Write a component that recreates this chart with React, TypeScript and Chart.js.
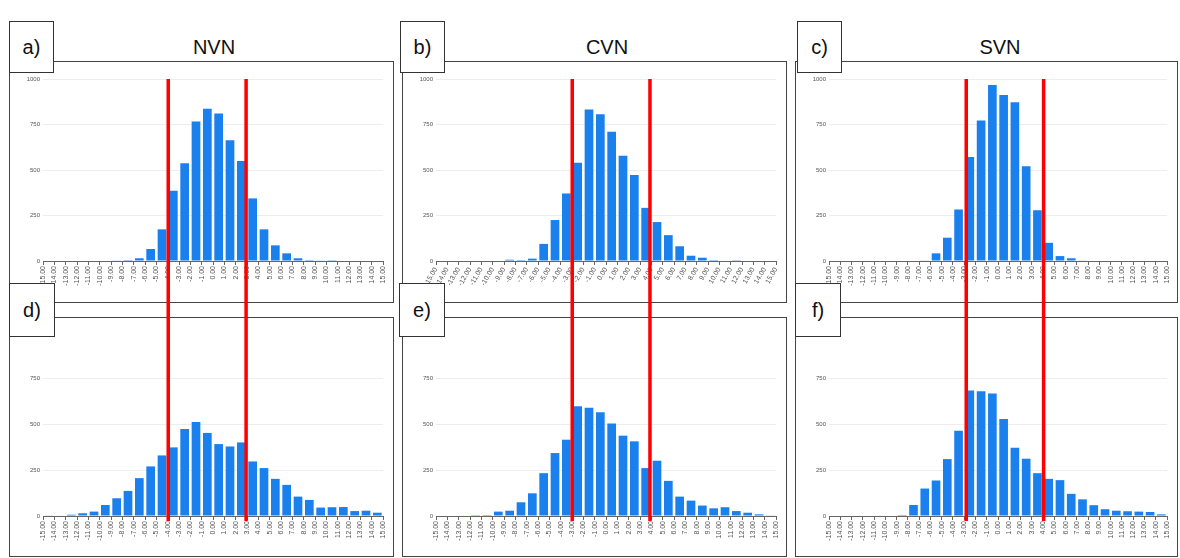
import React, { useEffect, useRef } from 'react';
import { Chart, registerables } from 'chart.js';

Chart.register(...registerables);

// ---------- data ----------
const binStarts = [-15, -14, -13, -12, -11, -10, -9, -8, -7, -6, -5, -4, -3, -2, -1, 0, 1, 2, 3, 4, 5, 6, 7, 8, 9, 10, 11, 12, 13, 14];
const tickValues = [-15, -14, -13, -12, -11, -10, -9, -8, -7, -6, -5, -4, -3, -2, -1, 0, 1, 2, 3, 4, 5, 6, 7, 8, 9, 10, 11, 12, 13, 14, 15];
const yTicksTop = [0, 250, 500, 750, 1000];
const yTicksBottom = [0, 250, 500, 750];

const nvnTop = [0, 0, 0, 0, 0, 0, 2, 5, 15, 66, 174, 386, 537, 766, 837, 811, 663, 549, 344, 174, 86, 42, 15, 5, 2, 1, 0, 0, 0, 0];
const cvnTop = [0, 0, 0, 0, 0, 0, 7, 5, 13, 94, 225, 371, 540, 832, 807, 710, 578, 472, 292, 214, 142, 81, 29, 18, 5, 3, 1, 0, 0, 0];
const svnTop = [0, 0, 0, 0, 0, 0, 0, 0, 2, 42, 128, 283, 571, 772, 967, 912, 872, 520, 279, 100, 27, 15, 2, 0, 0, 0, 0, 0, 0, 0];
const nvnBottom = [2, 3, 7, 15, 24, 60, 97, 137, 207, 271, 331, 375, 476, 514, 454, 393, 380, 402, 298, 262, 203, 170, 106, 88, 46, 48, 49, 27, 29, 18];
const cvnBottom = [0, 0, 0, 1, 5, 24, 29, 75, 124, 234, 344, 417, 600, 591, 567, 505, 439, 408, 262, 302, 192, 106, 84, 57, 42, 48, 27, 18, 9, 2];
const svnBottom = [0, 0, 0, 0, 0, 0, 5, 60, 150, 194, 311, 466, 686, 682, 669, 530, 373, 313, 234, 203, 196, 121, 91, 59, 37, 29, 26, 24, 22, 9];

const regionTitles = ['NVN', 'CVN', 'SVN'];
const topLetters = ['a)', 'b)', 'c)'];
const bottomLetters = ['d)', 'e)', 'f)'];
const redLinesNVN = [-3.95, 2.92];
const redLinesCVN = [-2.98, 3.88];
const redLinesSVN = [-2.82, 4.05];

// ---------- layout ----------
const FONT = "'Liberation Sans', Arial, sans-serif";
const BAR_COLOR = '#1a80ee';
const colLeft = [9, 402, 795];
const colWidth = [385, 385, 383];

type HistProps = {
  values: number[];
  lines: number[];
  row: 'top' | 'bottom';
  rotation: number;
  left: number;
  top: number;
  width: number;
  height: number;
};

function Hist({ values, lines, row, rotation, left, top, width, height }: HistProps) {
  const ref = useRef<HTMLCanvasElement>(null);
  useEffect(() => {
    if (!ref.current) return;
    const isTop = row === 'top';
    const redPlugin = {
      id: 'redLines',
      afterDraw(chart: any) {
        const { ctx, chartArea, scales } = chart;
        ctx.save();
        ctx.strokeStyle = '#ff0000';
        ctx.lineWidth = 3.5;
        lines.forEach((v) => {
          const x = scales.x.getPixelForValue(v);
          const y0 = isTop ? chartArea.top : 0;
          const y1 = isTop ? chart.height : chartArea.bottom + 5;
          ctx.beginPath();
          ctx.moveTo(x, y0);
          ctx.lineTo(x, y1);
          ctx.stroke();
        });
        ctx.restore();
      },
    };
    const yTicks = isTop ? yTicksTop : yTicksBottom;
    const chart = new Chart(ref.current, {
      type: 'bar',
      data: {
        datasets: [
          {
            data: binStarts.map((s, i) => ({ x: s + 0.5, y: values[i] })),
            backgroundColor: BAR_COLOR,
            barPercentage: 0.96,
            categoryPercentage: 0.8,
          },
        ],
      },
      options: {
        animation: false,
        responsive: false,
        maintainAspectRatio: false,
        layout: { padding: { top: isTop ? 18 : 23, right: 11, left: 0, bottom: 0 } },
        plugins: { legend: { display: false }, tooltip: { enabled: false } },
        scales: {
          x: {
            type: 'linear',
            min: -15,
            max: 15,
            offset: false,
            afterBuildTicks: (s: any) => {
              s.ticks = tickValues.map((v) => ({ value: v }));
            },
            ticks: {
              autoSkip: false,
              minRotation: rotation,
              maxRotation: rotation,
              font: { size: 7, family: FONT },
              color: '#555',
              padding: 1,
              callback: (v: any) => Number(v).toFixed(2),
            },
            grid: { drawOnChartArea: false, tickLength: 4, color: '#666', offset: false },
            border: { color: '#666', width: 1 },
            afterFit: (s: any) => {
              s.height = isTop ? 49 : 42;
            },
          },
          y: {
            min: 0,
            max: 1000,
            afterBuildTicks: (s: any) => {
              s.ticks = yTicks.map((v) => ({ value: v }));
            },
            ticks: {
              font: { size: 6, family: FONT },
              color: '#555',
              padding: 3,
              callback: (v: any) => String(v),
            },
            grid: { color: 'rgba(0,0,0,0.07)', drawTicks: false },
            border: { display: false },
            afterFit: (s: any) => {
              s.width = 34;
            },
          },
        },
      } as any,
      plugins: [redPlugin],
    });
    return () => chart.destroy();
  }, []);
  return (
    <canvas
      ref={ref}
      width={width}
      height={height}
      style={{ position: 'absolute', left, top, width, height, zIndex: 1 }}
    />
  );
}

function Frame({ left, top, width, height }: { left: number; top: number; width: number; height: number }) {
  return (
    <div
      style={{
        position: 'absolute',
        left,
        top,
        width,
        height,
        border: '1.5px solid #444',
        boxSizing: 'border-box',
        background: '#fff',
        zIndex: 0,
      }}
    />
  );
}

function LetterBox({ left, top, width, height, text }: { left: number; top: number; width: number; height: number; text: string }) {
  return (
    <div
      style={{
        position: 'absolute',
        left,
        top,
        width,
        height,
        border: '1.5px solid #333',
        boxSizing: 'border-box',
        background: '#fff',
        zIndex: 2,
        display: 'flex',
        alignItems: 'center',
        justifyContent: 'center',
        fontFamily: FONT,
        fontSize: 20,
        color: '#111',
      }}
    >
      {text}
    </div>
  );
}

export default function App() {
  const topData = [nvnTop, cvnTop, svnTop];
  const bottomData = [nvnBottom, cvnBottom, svnBottom];
  const lineSets = [redLinesNVN, redLinesCVN, redLinesSVN];
  const rotations = [90, 60, 90];
  return (
    <div style={{ position: 'absolute', left: 0, top: 0, width: 1180, height: 558, background: '#fff', overflow: 'hidden' }}>
      {colLeft.map((l, i) => (
        <React.Fragment key={i}>
          <Frame left={l} top={61} width={colWidth[i]} height={242} />
          <Frame left={l} top={317} width={colWidth[i]} height={240} />
          <Hist values={topData[i]} lines={lineSets[i]} row="top" rotation={rotations[i]} left={l} top={61} width={colWidth[i]} height={249} />
          <Hist values={bottomData[i]} lines={lineSets[i]} row="bottom" rotation={90} left={l} top={310} width={colWidth[i]} height={248} />
          <LetterBox left={l - (i === 0 ? 0 : 2) + (i === 2 ? 4 : 0)} top={21} width={45} height={52} text={topLetters[i]} />
          <LetterBox left={l - (i === 0 ? 0 : 3) + (i === 2 ? 3 : 0)} top={283} width={46} height={54} text={bottomLetters[i]} />
          <div
            style={{
              position: 'absolute',
              left: l + 205 - 60,
              top: 36,
              width: 120,
              textAlign: 'center',
              fontFamily: FONT,
              fontSize: 20,
              color: '#111',
              zIndex: 2,
              lineHeight: '23px',
            }}
          >
            {regionTitles[i]}
          </div>
        </React.Fragment>
      ))}
    </div>
  );
}
